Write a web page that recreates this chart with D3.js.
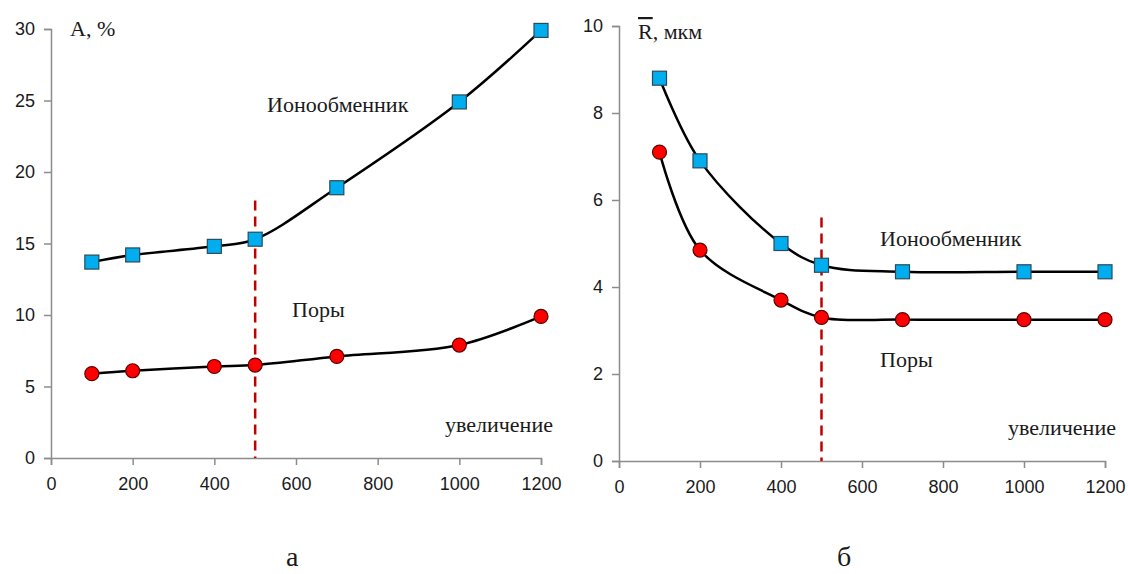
<!DOCTYPE html>
<html><head><meta charset="utf-8">
<script src="https://cdn.jsdelivr.net/npm/d3@7"></script>
<style>body{margin:0;background:#fff}svg{display:block}</style>
</head><body>
<svg id="c" width="1128" height="574"></svg>
<script>
const magnification = [100, 200, 400, 500, 700, 1000, 1200];
const xTicks = [0, 200, 400, 600, 800, 1000, 1200];
// panel а: A, %
const aIon = [13.7, 14.2, 14.8, 15.3, 18.9, 24.9, 29.9];
const aPore = [5.9, 6.1, 6.4, 6.5, 7.1, 7.9, 9.9];
const aYTicks = [0, 5, 10, 15, 20, 25, 30];
// panel б: R, мкм
const bIon = [8.8, 6.9, 5.0, 4.5, 4.35, 4.35, 4.35];
const bPore = [7.1, 4.85, 3.7, 3.3, 3.25, 3.25, 3.25];
const bYTicks = [0, 2, 4, 6, 8, 10];
const markLine = 500;

const svg = d3.select("#c");
const serif = "'Liberation Serif','Times New Roman',serif";
const sans = "'Liberation Sans',Arial,sans-serif";

function panel(o) {
  const x = d3.scaleLinear().domain([0, 1200]).range([o.x0, o.x1]);
  const y = d3.scaleLinear().domain([0, o.ymax]).range([o.y0, o.y1]);
  const g = svg.append("g");
  const ya = g.append("g").attr("transform", `translate(${o.x0},0)`)
    .call(d3.axisLeft(y).tickValues(o.yTicks).tickFormat(d3.format("d")).tickSize(7).tickPadding(9));
  const xa = g.append("g").attr("transform", `translate(0,${o.y0})`)
    .call(d3.axisBottom(x).tickValues(xTicks).tickFormat(d3.format("d")).tickSize(7).tickPadding(12));
  [ya, xa].forEach(a => {
    a.attr("font-size", 18).attr("font-family", sans);
    a.select(".domain").attr("stroke", "#8c8c8c").attr("stroke-width", 1.5);
    a.selectAll(".tick line").attr("stroke", "#8c8c8c").attr("stroke-width", 1.5);
    a.selectAll(".tick text").attr("fill", "#1a1a1a").style("font-size", "18px");
  });
  // dashed marker
  g.append("line").attr("x1", x(markLine)).attr("x2", x(markLine))
    .attr("y1", y(o.dashTop)).attr("y2", y(0))
    .attr("stroke", "#c00000").attr("stroke-width", 2.5).attr("stroke-dasharray", "10,6");
  const line = d3.line().x((d, i) => x(magnification[i])).y(d => y(d)).curve(d3.curveCatmullRom.alpha(0.5));
  [o.ion, o.pore].forEach(s => {
    g.append("path").attr("d", line(s)).attr("fill", "none").attr("stroke", "#000").attr("stroke-width", 2.5);
  });
  g.selectAll(".sq").data(o.ion).join("rect")
    .attr("x", (d, i) => x(magnification[i]) - 7).attr("y", d => y(d) - 7)
    .attr("width", 14).attr("height", 14)
    .attr("fill", "#00aeef").attr("stroke", "#2a4a5a").attr("stroke-width", 1.2);
  g.selectAll(".ci").data(o.pore).join("circle")
    .attr("cx", (d, i) => x(magnification[i])).attr("cy", d => y(d)).attr("r", 7)
    .attr("fill", "#ff0000").attr("stroke", "#5a0000").attr("stroke-width", 1.2);
  o.texts.forEach(t => {
    g.append("text").attr("x", t[0]).attr("y", t[1]).text(t[2])
      .attr("fill", "#1a1a1a").style("font-family", serif).style("font-size", (t[3] || 22) + "px");
  });
  return g;
}

panel({x0: 51, x1: 541, y0: 458, y1: 29, ymax: 30, yTicks: aYTicks, ion: aIon, pore: aPore, dashTop: 18,
  texts: [[70, 36, "A, %", 22], [267, 112, "Ионообменник"], [292, 317, "Поры"], [445, 432, "увеличение"], [286, 566, "а", 28]]});
const gb = panel({x0: 619, x1: 1105, y0: 461, y1: 26, ymax: 10, yTicks: bYTicks, ion: bIon, pore: bPore, dashTop: 5.6,
  texts: [[880, 246, "Ионообменник"], [880, 367, "Поры"], [1008, 435, "увеличение"], [837, 566, "б", 28]]});
const rt = gb.append("text").attr("x", 638).attr("y", 39).attr("fill", "#1a1a1a")
  .style("font-family", serif).style("font-size", "22px");
rt.append("tspan").text("R").style("text-decoration", "overline");
rt.append("tspan").text(",  мкм");
</script>
</body></html>
